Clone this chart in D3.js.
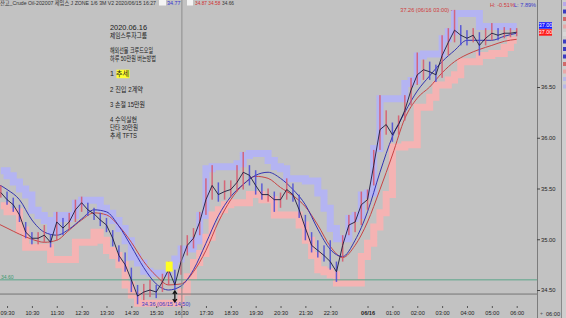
<!DOCTYPE html>
<html><head><meta charset="utf-8">
<script src="https://cdn.jsdelivr.net/npm/d3@7"></script>
<style>
body{margin:0;background:#c2c2c2;}
svg{display:block;font-family:"Liberation Sans","Noto Sans CJK KR",sans-serif;}
</style></head><body>
<svg id="chart" width="566" height="318"></svg>
<script>
// ---- data (15-min bars, 06/15 09:15 -> 06/16 06:00) ----
const close = [35.46,35.39,35.34,35.24,35.07,35.01,35.01,35.04,34.97,35.17,
  35.11,35.17,35.29,35.36,35.29,35.25,35.19,35.14,35.01,34.84,
  34.75,34.60,34.44,34.48,34.50,34.48,34.58,34.70,34.55,34.78,
  34.94,35.01,35.17,35.39,35.53,35.44,35.47,35.49,35.56,35.66,
  35.63,35.53,35.44,35.44,35.39,35.39,35.49,35.44,35.29,35.11,
  34.94,34.89,34.84,34.78,34.68,34.94,35.14,35.17,35.34,35.39,
  35.73,36.08,36.13,36.03,36.13,36.27,36.47,36.62,36.67,36.65,
  36.62,36.81,36.94,37.06,37.01,36.98,37.01,36.91,36.98,37.03,
  37.01,37.03,37.03,37.04];
const high = [35.53,35.47,35.41,35.34,35.17,35.07,35.07,35.14,35.05,35.27,
  35.21,35.26,35.39,35.42,35.36,35.31,35.26,35.21,35.09,34.94,
  34.87,34.72,34.55,34.56,34.60,34.55,34.66,34.78,34.70,34.94,
  35.04,35.11,35.27,35.60,35.73,35.56,35.58,35.58,35.73,35.86,
  35.73,35.68,35.55,35.50,35.47,35.46,35.60,35.55,35.44,35.24,
  35.07,34.99,34.94,34.99,34.78,35.04,35.24,35.27,35.47,35.49,
  35.88,36.42,36.27,36.15,36.22,36.42,36.59,36.84,36.77,36.75,
  36.72,37.01,37.08,37.26,37.11,37.06,37.08,37.04,37.08,37.13,
  37.08,37.09,37.08,37.08];
const low = [35.41,35.34,35.27,35.17,35.01,34.95,34.95,34.97,34.92,34.99,
  35.04,35.09,35.17,35.27,35.23,35.19,35.13,35.07,34.93,34.78,
  34.68,34.48,34.36,34.40,34.43,34.42,34.48,34.55,34.50,34.65,
  34.84,34.91,35.04,35.24,35.39,35.37,35.39,35.42,35.47,35.49,
  35.53,35.44,35.39,35.37,35.27,35.31,35.39,35.37,35.21,34.99,
  34.87,34.82,34.78,34.70,34.58,34.78,35.04,35.07,35.14,35.29,
  35.53,35.88,36.03,35.96,36.03,36.17,36.32,36.52,36.57,36.57,
  36.55,36.59,36.81,36.94,36.91,36.91,36.94,36.81,36.91,36.96,
  36.96,36.98,36.99,37.00];
const upperBand = [35.71,35.66,35.60,35.53,35.47,35.32,35.27,35.22,35.12,35.27,
  35.24,35.27,35.39,35.42,35.42,35.42,35.34,35.29,35.22,35.14,
  35.02,34.86,34.80,34.72,34.70,34.70,34.70,34.78,34.84,34.94,
  34.94,35.02,35.27,35.73,35.75,35.75,35.75,35.75,35.78,35.86,
  35.88,35.88,35.88,35.81,35.75,35.73,35.63,35.63,35.63,35.61,
  35.61,35.49,35.34,35.14,35.04,35.04,35.24,35.27,35.47,35.49,
  35.93,36.42,36.42,36.42,36.42,36.57,36.60,36.84,36.86,36.86,
  36.86,37.01,37.08,37.26,37.26,37.26,37.26,37.13,37.13,37.13,
  37.13,37.13,37.13,37.13];
const lowerBand = [35.33,35.27,35.27,35.09,34.92,34.92,34.92,34.92,34.80,34.80,
  34.80,34.80,34.97,34.97,34.97,35.07,34.99,34.89,34.84,34.75,
  34.55,34.45,34.37,34.37,34.37,34.37,34.37,34.37,34.37,34.48,
  34.63,34.77,34.86,35.02,35.24,35.29,35.34,35.36,35.36,35.36,
  35.44,35.44,35.39,35.39,35.24,35.24,35.24,35.24,35.14,34.99,
  34.84,34.70,34.68,34.65,34.57,34.57,34.57,34.57,34.83,34.96,
  35.12,35.26,35.44,35.91,35.91,35.93,35.93,36.30,36.30,36.40,
  36.52,36.52,36.57,36.62,36.75,36.75,36.75,36.81,36.81,36.83,
  36.83,36.89,36.96,36.96];
// moving averages, 30-min points 09:00 -> 06:00
const blueMA = [35.56,35.49,35.39,35.19,35.07,35.04,35.10,35.20,35.29,35.27,
  35.13,34.93,34.72,34.56,34.50,34.54,34.70,34.96,35.23,35.42,
  35.54,35.63,35.66,35.60,35.49,35.34,35.10,34.90,34.83,34.99,
  35.27,35.66,36.01,36.25,36.46,36.61,36.75,36.86,36.96,36.96,
  36.96,37.00,37.03];
const redMA = [35.17,35.11,35.05,35.00,34.97,34.99,35.09,35.19,35.26,35.24,
  35.13,34.97,34.78,34.64,34.55,34.56,34.68,34.89,35.17,35.39,
  35.54,35.62,35.60,35.51,35.43,35.32,35.14,34.93,34.82,34.94,
  35.17,35.49,35.83,36.19,36.39,36.50,36.64,36.75,36.82,36.87,
  36.91,36.95,36.97];

const yTicks = [34.5, 35.0, 35.5, 36.0, 36.5];
const xTickTimes = ["2020-06-15 09:30","2020-06-15 10:30","2020-06-15 11:30","2020-06-15 12:30",
  "2020-06-15 13:30","2020-06-15 14:30","2020-06-15 15:30","2020-06-15 16:30","2020-06-15 17:30",
  "2020-06-15 18:30","2020-06-15 19:30","2020-06-15 20:30","2020-06-15 21:30","2020-06-15 22:30",
  "2020-06-16 00:00","2020-06-16 01:00","2020-06-16 02:00","2020-06-16 03:00","2020-06-16 04:00",
  "2020-06-16 05:00","2020-06-16 06:00"];
const xTickLabels = ["09:30","10:30","11:30","12:30","13:30","14:30","15:30","16:30","17:30",
  "18:30","19:30","20:30","21:30","22:30","06/16","01:00","02:00","03:00","04:00","05:00","06:00"];

const refLevels = [{v: 34.60, c: "#5aa68a"}, {v: 34.46, c: "#767676"}];
const signalIdx = 27, entryIdx = 28;
const noteLines = ["2020.06.16", "제임스투자그룹", "", "해외선물 크루드오일", "하루 50만원 버는방법", "",
  "1 추세", "", "2 진입 2계약", "", "3 손절 15만원", "", "4 수익실현", "단타 30만원", "추세 TFTS"];

// ---- setup ----
const parse = d3.timeParse("%Y-%m-%d %H:%M");
const barTimes = d3.timeMinute.every(15).range(parse("2020-06-15 09:15"), parse("2020-06-16 06:01"));
const maTimes = d3.timeMinute.every(30).range(parse("2020-06-15 09:00"), parse("2020-06-16 06:01"));

const PR = 537, PB = 307;
const svg = d3.select("#chart");
const x = d3.scaleTime().domain([parse("2020-06-15 09:13"), parse("2020-06-16 06:49")]).range([0, PR]);
const y = d3.scaleLinear().domain([34.5, 36.5]).range([290, 87]);

svg.append("rect").attr("width", 566).attr("height", 318).attr("fill", "#c2c2c2");
svg.append("defs").append("clipPath").attr("id", "plot")
  .append("rect").attr("width", PR).attr("height", PB);

const g = svg.append("g").attr("clip-path", "url(#plot)");

// channel bands: thick stepped ribbons
const stepLine = off => d3.line().x((d, i) => x(barTimes[i])).y(d => y(d + off)).curve(d3.curveStepAfter);
g.append("path").datum(upperBand).attr("d", stepLine(-0.035))
  .attr("fill", "none").attr("stroke", "#b4b4f2").attr("stroke-width", 7);
g.append("path").datum(lowerBand).attr("d", stepLine(0))
  .attr("fill", "none").attr("stroke", "#f5b3b3").attr("stroke-width", 7);

// reference lines
g.selectAll(".ref").data(refLevels).join("line").attr("class", "ref")
  .attr("x1", 0).attr("x2", PR).attr("y1", d => y(d.v)).attr("y2", d => y(d.v))
  .attr("stroke", d => d.c).attr("stroke-width", 1);

// moving averages
const maLine = d3.line().x((d, i) => x(maTimes[i])).y(d => y(d)).curve(d3.curveMonotoneX);
g.append("path").datum(redMA).attr("d", maLine).attr("fill", "none").attr("stroke", "#c84444").attr("stroke-width", 1);
g.append("path").datum(blueMA).attr("d", maLine).attr("fill", "none").attr("stroke", "#3434b0").attr("stroke-width", 1);

// price bars
g.selectAll(".bar").data(close).join("rect").attr("class", "bar")
  .attr("x", (d, i) => x(barTimes[i]) - 0.75).attr("width", 1.5)
  .attr("y", (d, i) => y(high[i])).attr("height", (d, i) => y(low[i]) - y(high[i]))
  .attr("fill", (d, i) => i > 0 && d < close[i - 1] ? "#4a4ad8" : "#d8566a").attr("opacity", 0.85);

// close line
g.append("path").datum(close)
  .attr("d", d3.line().x((d, i) => x(barTimes[i])).y(d => y(d)))
  .attr("fill", "none").attr("stroke", "#1c1c3c").attr("stroke-width", 0.9);

// crosshair
const xh = x(parse("2020-06-15 16:32"));
svg.append("line").attr("x1", xh).attr("x2", xh).attr("y1", 0).attr("y2", 318)
  .attr("stroke", "#8c8c8c").attr("stroke-width", 1);

// signal box and entry arrow
g.append("rect").attr("x", x(barTimes[signalIdx]) - 3).attr("y", y(high[signalIdx]))
  .attr("width", 7).attr("height", 10).attr("fill", "#ffff22");
const ex = x(barTimes[entryIdx]), ey = y(low[entryIdx]);
svg.append("path")
  .attr("d", `M${ex},${ey + 2}L${ex},${ey + 12}M${ex - 2},${ey + 4}L${ex},${ey + 1}L${ex + 2},${ey + 4}M${ex - 2},${ey + 9}L${ex},${ey + 12}L${ex + 2},${ey + 9}`)
  .attr("stroke", "#111").attr("stroke-width", 1.3).attr("fill", "none");

// high / low labels
const hiIdx = d3.maxIndex(high), loIdx = d3.minIndex(low);
svg.append("text").attr("x", x(barTimes[hiIdx]) - 2).attr("y", y(high[hiIdx]) + 2)
  .attr("text-anchor", "end").attr("font-size", 5.6).attr("fill", "#d03a3a")
  .text(`${high[hiIdx].toFixed(2)} (06/16 03:00) -`);
svg.append("text").attr("x", x(barTimes[loIdx]) + 4).attr("y", y(low[loIdx]) + 2)
  .attr("font-size", 5.6).attr("fill", "#3a3ac8")
  .text(`${low[loIdx].toFixed(2)} (06/15 14:50)`);

// left level label
svg.append("text").attr("x", 1).attr("y", y(34.60) - 1).attr("font-size", 5).attr("fill", "#3c9a70").text("34.60");

// axes
svg.append("line").attr("x1", PR + 0.5).attr("x2", PR + 0.5).attr("y1", 0).attr("y2", 318).attr("stroke", "#7c7c7c");
const yAx = svg.append("g").attr("transform", `translate(${PR},0)`)
  .call(d3.axisRight(y).tickValues(yTicks).tickSize(3).tickPadding(1).tickFormat(d3.format(".2f")));
yAx.select(".domain").remove();
yAx.selectAll("text").attr("font-size", 5.8).attr("fill", "#222").attr("font-family", "Liberation Sans");
yAx.selectAll("line").attr("stroke", "#444");

const xAx = svg.append("g").attr("transform", `translate(0,306)`)
  .call(d3.axisBottom(x).tickValues(xTickTimes.map(parse)).tickSize(2).tickPadding(3)
    .tickFormat((d, i) => xTickLabels[i]));
xAx.select(".domain").remove();
xAx.selectAll("text").attr("font-size", 5.6).attr("fill", "#222").attr("font-family", "Liberation Sans")
  .attr("font-weight", (d, i) => xTickLabels[i] === "06/16" ? "bold" : null);
xAx.selectAll("line").attr("stroke", "#555");
svg.append("text").attr("x", 553).attr("y", 316).attr("text-anchor", "middle")
  .attr("font-size", 5.6).attr("fill", "#222").text("06:00");
svg.append("text").attr("x", 540).attr("y", 315).attr("font-size", 5).attr("fill", "#555").text("+");

// last value boxes
[{c: "#1a1aff", off: -7}, {c: "#ff1a1a", off: 0}].forEach(b => {
  const by = y(close[close.length - 1]) + b.off;
  svg.append("rect").attr("x", 539).attr("y", by - 3).attr("width", 13).attr("height", 6.5).attr("fill", b.c);
  svg.append("text").attr("x", 545.5).attr("y", by + 2).attr("text-anchor", "middle")
    .attr("font-size", 5.4).attr("fill", "#fff").text("37.00");
});

// right strip
svg.append("rect").attr("x", 561).attr("y", 0).attr("width", 5).attr("height", 318).attr("fill", "#cecece");
svg.append("line").attr("x1", 561.5).attr("x2", 561.5).attr("y1", 0).attr("y2", 318).attr("stroke", "#8a8a8a");
["#b8a8e8","#3c3cc0","#d06a6a","#e8a8a8","#d8d8d8","#3c3cc0","#3c3cc0","#3c3cc0","#d06a6a","#e8a8a8","#b8b8e8","#b8b8e8"]
  .forEach((c, i) => svg.append("rect").attr("x", 563).attr("y", 2 + i * 7.5).attr("width", 3).attr("height", 4).attr("fill", c));

// header
svg.append("text").attr("x", 0).attr("y", 5).attr("font-size", 5.4).attr("fill", "#333")
  .attr("textLength", 156).attr("lengthAdjust", "spacingAndGlyphs")
  .text("잔고_Crude Oil-202007 제임스 J ZONE 1/6 3M V2  2020/06/15 16:27");
svg.append("rect").attr("x", 159).attr("y", 0).attr("width", 7).attr("height", 5.5).attr("fill", "#f4f4f4");
svg.append("text").attr("x", 167).attr("y", 5).attr("font-size", 5.4).attr("fill", "#3030d0").text("34.77");
svg.append("rect").attr("x", 187).attr("y", 0).attr("width", 6).attr("height", 5.5).attr("fill", "#f4f4f4");
svg.append("text").attr("x", 195).attr("y", 5).attr("font-size", 4.8).attr("fill", "#d03030").text("34.87 34.58");
svg.append("text").attr("x", 222).attr("y", 5).attr("font-size", 4.8).attr("fill", "#333").text("34.66");
svg.append("text").attr("x", 490).attr("y", 7).attr("font-size", 5.6).attr("fill", "#d03a3a").text("H: -0.51%");
svg.append("text").attr("x", 514).attr("y", 7).attr("font-size", 5.6).attr("fill", "#3a3ac8").text("L: 7.89%");

// note block
const noteTop = 30, noteStep = 7.7;
svg.append("rect").attr("x", 116.5).attr("y", noteTop + 6 * noteStep - 6.5)
  .attr("width", 13).attr("height", 8.5).attr("fill", "#ffff30");
const noteWidths = [37, 37, 0, 43, 46, 0, 19, 0, 33, 0, 35, 0, 27, 28, 27];
noteLines.forEach((t, i) => {
  if (!t) return;
  svg.append("text").attr("x", 110).attr("y", noteTop + i * noteStep)
    .attr("font-size", 7.4).attr("fill", "#1a1a1a")
    .attr("textLength", noteWidths[i]).attr("lengthAdjust", "spacingAndGlyphs").text(t);
});
</script>
</body></html>
